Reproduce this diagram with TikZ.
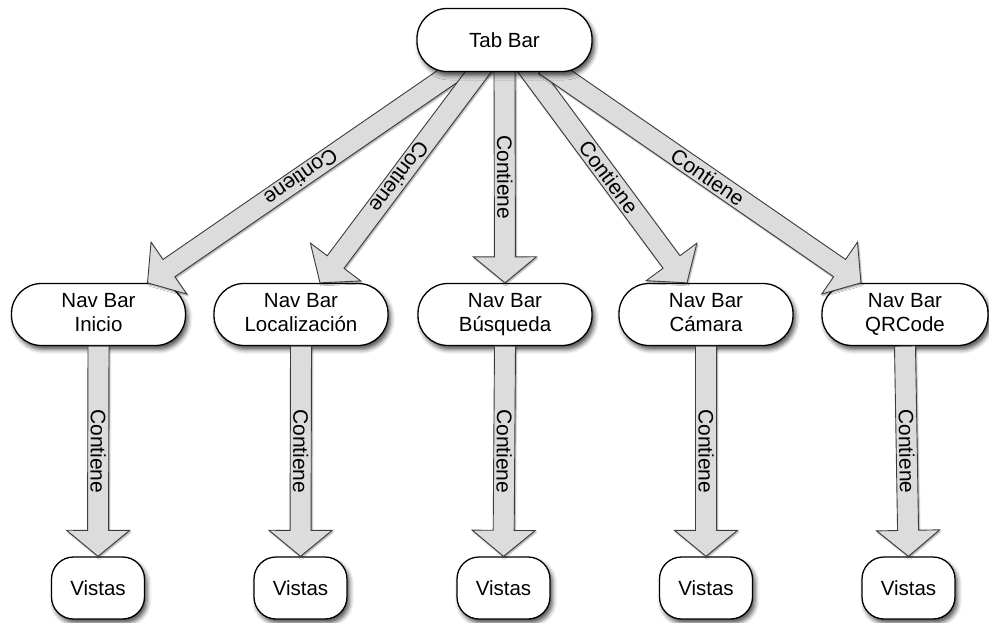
\documentclass[tikz,border=0pt]{standalone}
\usepackage{fontspec}
\setmainfont{Liberation Sans}
\usetikzlibrary{calc,shadows.blur}

\definecolor{arrowgray}{HTML}{DCDCDC}
\definecolor{arrowline}{HTML}{3C3C3C}

\tikzset{
  boxshadow/.style={blur shadow={shadow xshift=2.5pt, shadow yshift=-4pt,
      shadow blur radius=4.5pt, shadow opacity=70}},
  tabbox/.style={draw=black, line width=1.3pt, fill=white, rounded corners=30pt,
      minimum width=175pt, minimum height=63pt, inner sep=0pt, align=center,
      font=\fontsize{20.5}{24}\selectfont, boxshadow},
  navbox/.style={tabbox, minimum width=174pt, minimum height=62pt},
  viewbox/.style={tabbox, minimum width=93pt, minimum height=62pt, rounded corners=22pt},
  arrowbody/.style={fill=arrowgray, draw=arrowline, line width=0.9pt, line join=miter,
      blur shadow={shadow xshift=1pt, shadow yshift=-1.5pt, shadow blur radius=1.5pt,
      shadow opacity=40}},
  arrowtext/.style={font=\fontsize{21}{24}\selectfont, inner sep=0pt, sloped,
      allow upside down},
}

% fat arrow from #1 to #2 labelled #3; the shaft is extended #4 behind its start
\newcommand\fatarrow[4]{%
  \coordinate (fa-b) at ($(#1)!-#4!(#2)$);
  \coordinate (fa-h) at ($(#2)!26pt!(#1)$);
  \filldraw[arrowbody]
    ($(fa-b)!10.5pt!90:(#2)$) -- ($(fa-h)!10.5pt!90:(#2)$) --
    ($(fa-h)!31.5pt!90:(#2)$) -- (#2) -- ($(fa-h)!31.5pt!-90:(#2)$) --
    ($(fa-h)!10.5pt!-90:(#2)$) -- ($(fa-b)!10.5pt!-90:(#2)$) -- cycle;
  \path (#1) -- (#2) node[arrowtext, midway] {#3};
}

\begin{document}
\begin{tikzpicture}[x=1pt, y=-1pt]
  \useasboundingbox (0,0) rectangle (989,622);

  % centre of the top node; the node itself is drawn over its arrows
  \coordinate (tabc) at (504.5,40);

  % navigation bars
  \node[navbox] (nav1) at (98.5,314.5) {\strut Nav Bar\\\strut Inicio};
  \node[navbox] (nav2) at (301,314.5) {\strut Nav Bar\\\strut Localización};
  \node[navbox] (nav3) at (505,314.5) {\strut Nav Bar\\\strut Búsqueda};
  \node[navbox] (nav4) at (706,314.5) {\strut Nav Bar\\\strut Cámara};
  \node[navbox, minimum width=166pt] (nav5) at (905,314.5) {\strut Nav Bar\\\strut QRCode};

  % views
  \node[viewbox] (v1) at (98,588) {Vistas};
  \node[viewbox] (v2) at (300.5,588) {Vistas};
  \node[viewbox] (v3) at (503.5,588) {Vistas};
  \node[viewbox] (v4) at (706,588) {Vistas};
  \node[viewbox] (v5) at (908.5,588) {Vistas};

  % arrow ends below the top node and on the navigation bars
  \coordinate (s1) at ([xshift=-50pt,yshift=-31.5pt]tabc);
  \coordinate (s2) at ([xshift=-26pt,yshift=-31.5pt]tabc);
  \coordinate (s3) at ([yshift=-31.5pt]tabc);
  \coordinate (s4) at ([xshift=26pt,yshift=-31.5pt]tabc);
  \coordinate (s5) at ([xshift=50pt,yshift=-31.5pt]tabc);
  \coordinate (t1) at ([xshift=49pt]nav1.north);
  \coordinate (t2) at ([xshift=19pt]nav2.north);
  \coordinate (t3) at (nav3.north);
  \coordinate (t4) at ([xshift=-19pt]nav4.north);
  \coordinate (t5) at ([xshift=-44pt]nav5.north);

  \fatarrow{s1}{t1}{Contiene}{12pt}
  \fatarrow{s2}{t2}{Contiene}{12pt}
  \fatarrow{s3}{t3}{Contiene}{12pt}
  \fatarrow{s4}{t4}{Contiene}{12pt}
  \fatarrow{s5}{t5}{Contiene}{12pt}

  \fatarrow{nav1.south}{v1.north}{Contiene}{0pt}
  \fatarrow{nav2.south}{v2.north}{Contiene}{0pt}
  \fatarrow{nav3.south}{v3.north}{Contiene}{0pt}
  \fatarrow{nav4.south}{v4.north}{Contiene}{0pt}
  \fatarrow{nav5.south}{v5.north}{Contiene}{0pt}

  % top node, over the start of its arrows
  \node[tabbox] (tab) at (tabc) {Tab Bar};
\end{tikzpicture}
\end{document}
